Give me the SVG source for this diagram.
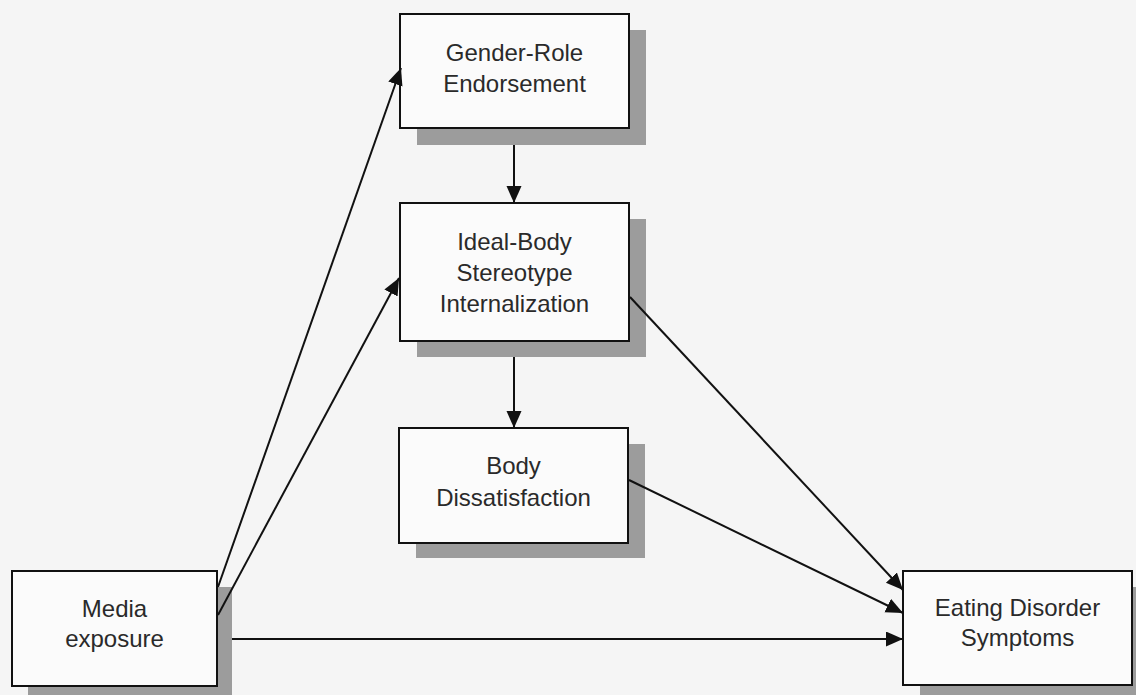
<svg xmlns="http://www.w3.org/2000/svg" width="1136" height="695" viewBox="0 0 1136 695">
  <style>
    .shadow { fill: #9c9c9c; }
    .box { fill: #fbfbfb; stroke: #111; stroke-width: 2; }
    .label { font-family: "Liberation Sans", Arial, sans-serif; font-size: 24px; fill: #2a2a2a; text-anchor: middle; }
    .link { stroke: #111; stroke-width: 2; fill: none; marker-end: url(#arrow); }
  </style>
  <defs>
    <marker id="arrow" markerUnits="userSpaceOnUse" markerWidth="18" markerHeight="16" refX="17" refY="7.5" orient="auto">
      <path d="M0,0 L17,7.5 L0,15 z" fill="#111"/>
    </marker>
  </defs>

  <rect width="1136" height="695" fill="#f5f5f5"/>

  <!-- nodes -->
  <g id="gender-role">
    <rect class="shadow" x="417" y="30" width="229" height="115"/>
    <rect class="box" x="400" y="14" width="229" height="114"/>
    <text class="label" x="514.5" y="61">Gender-Role</text>
    <text class="label" x="514.5" y="92">Endorsement</text>
  </g>

  <g id="ideal-body">
    <rect class="shadow" x="417" y="219" width="229" height="138"/>
    <rect class="box" x="400" y="203" width="229" height="138"/>
    <text class="label" x="514.5" y="250">Ideal-Body</text>
    <text class="label" x="514.5" y="281">Stereotype</text>
    <text class="label" x="514.5" y="312">Internalization</text>
  </g>

  <g id="body-dissatisfaction">
    <rect class="shadow" x="416" y="444" width="229" height="114"/>
    <rect class="box" x="399" y="428" width="229" height="115"/>
    <text class="label" x="513.5" y="474">Body</text>
    <text class="label" x="513.5" y="506">Dissatisfaction</text>
  </g>

  <g id="media-exposure">
    <rect class="shadow" x="28" y="587" width="204" height="120"/>
    <rect class="box" x="12" y="571" width="205" height="115"/>
    <text class="label" x="114.5" y="617">Media</text>
    <text class="label" x="114.5" y="647">exposure</text>
  </g>

  <g id="eating-disorder">
    <rect class="shadow" x="920" y="587" width="230" height="120"/>
    <rect class="box" x="903" y="571" width="229" height="114"/>
    <text class="label" x="1017.5" y="616">Eating Disorder</text>
    <text class="label" x="1017.5" y="646">Symptoms</text>
  </g>

  <!-- connectors -->
  <g id="connectors">
    <line class="link" x1="514" y1="145" x2="514" y2="203"/>
    <line class="link" x1="514" y1="357" x2="514" y2="428"/>
    <line class="link" x1="218" y1="587" x2="401" y2="68"/>
    <line class="link" x1="218" y1="615" x2="399" y2="278"/>
    <line class="link" x1="630" y1="297" x2="903" y2="590"/>
    <line class="link" x1="629" y1="480" x2="903" y2="613"/>
    <line class="link" x1="232" y1="639" x2="903" y2="639"/>
  </g>
</svg>
